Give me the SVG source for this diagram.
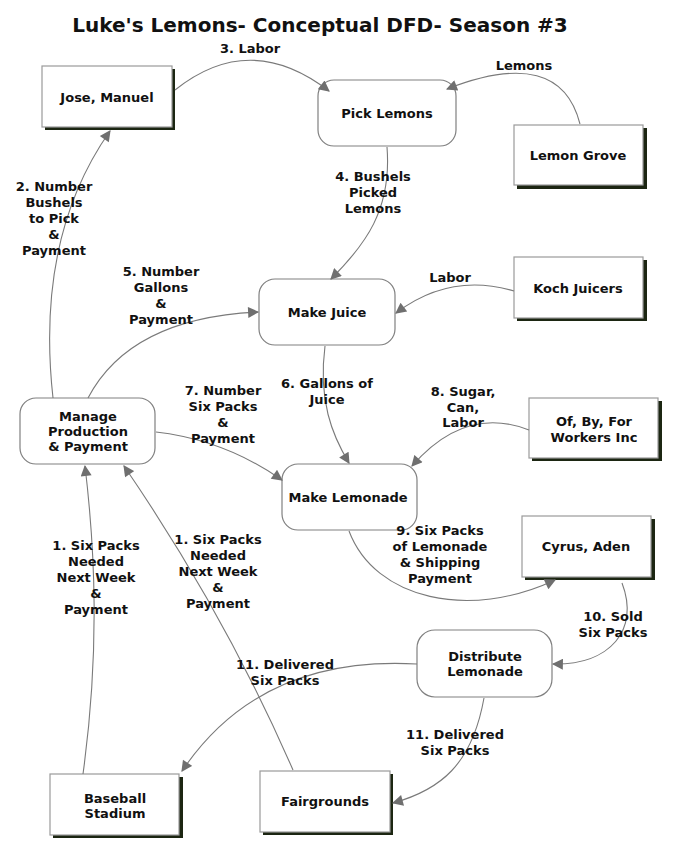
<svg xmlns="http://www.w3.org/2000/svg" width="675" height="850" viewBox="0 0 675 850">
<defs>
<marker id="arr" viewBox="0 0 10 10" refX="9" refY="5" markerWidth="13" markerHeight="11" markerUnits="userSpaceOnUse" orient="auto">
<path d="M0,0 L10,5 L0,10 Z" fill="#6f6f6f"/>
</marker>
</defs>
<style>
text{font-family:"DejaVu Sans",Verdana,sans-serif;font-weight:bold;font-size:13px;fill:#111;text-anchor:middle}
.title{font-size:20px}
.ext{fill:#fff;stroke:#9a9a9a;stroke-width:1.2}
.sh{fill:#1c2612}
.proc{fill:#fff;stroke:#808080;stroke-width:1.2}
.c{fill:none;stroke:#7a7a7a;stroke-width:1.1;marker-end:url(#arr)}
</style>
<rect width="675" height="850" fill="#fff"/>
<text class="title" x="320" y="32">Luke's Lemons- Conceptual DFD- Season #3</text>

<g id="jose">
<rect class="sh" x="45" y="69" width="130" height="61"/>
<rect class="ext" x="42" y="66" width="130" height="61"/>
<text x="107" y="102">Jose, Manuel</text>
</g>
<g id="pick">
<rect class="proc" x="318" y="80" width="138" height="66" rx="16"/>
<text x="387" y="118">Pick Lemons</text>
</g>
<g id="grove">
<rect class="sh" x="517" y="128" width="130" height="61"/>
<rect class="ext" x="514" y="125" width="129" height="60"/>
<text x="578" y="160">Lemon Grove</text>
</g>
<g id="koch">
<rect class="sh" x="517" y="260" width="130" height="61"/>
<rect class="ext" x="514" y="257" width="129" height="61"/>
<text x="578" y="293">Koch Juicers</text>
</g>
<g id="juice">
<rect class="proc" x="259" y="279" width="136" height="66" rx="16"/>
<text x="327" y="317">Make Juice</text>
</g>
<g id="manage">
<rect class="proc" x="20" y="398" width="135" height="66" rx="16"/>
<text x="88" y="421">Manage</text>
<text x="88" y="436">Production</text>
<text x="88" y="451">&amp; Payment</text>
</g>
<g id="lemonade">
<rect class="proc" x="282" y="464" width="135" height="66" rx="16"/>
<text x="348" y="502">Make Lemonade</text>
</g>
<g id="workers">
<rect class="sh" x="532" y="401" width="130" height="60"/>
<rect class="ext" x="529" y="398" width="129" height="60"/>
<text x="594" y="426">Of, By, For</text>
<text x="594" y="442">Workers Inc</text>
</g>
<g id="cyrus">
<rect class="sh" x="525" y="519" width="130" height="61"/>
<rect class="ext" x="522" y="516" width="129" height="61"/>
<text x="586" y="551">Cyrus, Aden</text>
</g>
<g id="distribute">
<rect class="proc" x="417" y="630" width="135" height="67" rx="18"/>
<text x="485" y="661">Distribute</text>
<text x="485" y="676">Lemonade</text>
</g>
<g id="baseball">
<rect class="sh" x="53" y="777" width="130" height="61"/>
<rect class="ext" x="50" y="774" width="129" height="61"/>
<text x="115" y="803">Baseball</text>
<text x="115" y="818">Stadium</text>
</g>
<g id="fairgrounds">
<rect class="sh" x="263" y="774" width="130" height="61"/>
<rect class="ext" x="260" y="771" width="130" height="61"/>
<text x="325" y="806">Fairgrounds</text>
</g>

<g id="connectors">
<path class="c" d="M175,90 Q250,30 329,91"/>
<path class="c" d="M580,124 Q560,45 447,89"/>
<path class="c" d="M387,147 C392,210 365,245 331,279"/>
<path class="c" d="M514,291 Q450,272 396,313"/>
<path class="c" d="M53,398 C40,280 65,195 110,131"/>
<path class="c" d="M88,398 Q130,318 258,312"/>
<path class="c" d="M325,346 C318,400 332,435 349,463"/>
<path class="c" d="M529,430 Q465,405 412,466"/>
<path class="c" d="M156,432 Q225,440 282,480"/>
<path class="c" d="M349,531 C375,600 470,620 555,580"/>
<path class="c" d="M622,583 C640,630 610,665 553,664"/>
<path class="c" d="M417,664 Q260,655 182,771"/>
<path class="c" d="M484,698 C472,765 440,790 393,803"/>
<path class="c" d="M83,774 C100,650 95,550 85,466"/>
<path class="c" d="M293,770 C245,660 185,555 124,466"/>
</g>

<g id="labels">
<text x="250" y="53">3. Labor</text>
<text x="524" y="70">Lemons</text>
<text x="373" y="181">4. Bushels</text>
<text x="373" y="197">Picked</text>
<text x="373" y="213">Lemons</text>
<text x="450" y="282">Labor</text>
<text x="54" y="191">2. Number</text>
<text x="54" y="207">Bushels</text>
<text x="54" y="223">to Pick</text>
<text x="54" y="239">&amp;</text>
<text x="54" y="255">Payment</text>
<text x="161" y="276">5. Number</text>
<text x="161" y="292">Gallons</text>
<text x="161" y="308">&amp;</text>
<text x="161" y="324">Payment</text>
<text x="327" y="388">6. Gallons of</text>
<text x="327" y="404">Juice</text>
<text x="463" y="396">8. Sugar,</text>
<text x="463" y="412">Can,</text>
<text x="463" y="427">Labor</text>
<text x="223" y="395">7. Number</text>
<text x="223" y="411">Six Packs</text>
<text x="223" y="427">&amp;</text>
<text x="223" y="443">Payment</text>
<text x="440" y="535">9. Six Packs</text>
<text x="440" y="551">of Lemonade</text>
<text x="440" y="567">&amp; Shipping</text>
<text x="440" y="583">Payment</text>
<text x="613" y="621">10. Sold</text>
<text x="613" y="637">Six Packs</text>
<text x="285" y="669">11. Delivered</text>
<text x="285" y="685">Six Packs</text>
<text x="455" y="739">11. Delivered</text>
<text x="455" y="755">Six Packs</text>
<text x="96" y="550">1. Six Packs</text>
<text x="96" y="566">Needed</text>
<text x="96" y="582">Next Week</text>
<text x="96" y="598">&amp;</text>
<text x="96" y="614">Payment</text>
<text x="218" y="544">1. Six Packs</text>
<text x="218" y="560">Needed</text>
<text x="218" y="576">Next Week</text>
<text x="218" y="592">&amp;</text>
<text x="218" y="608">Payment</text>
</g>
</svg>
